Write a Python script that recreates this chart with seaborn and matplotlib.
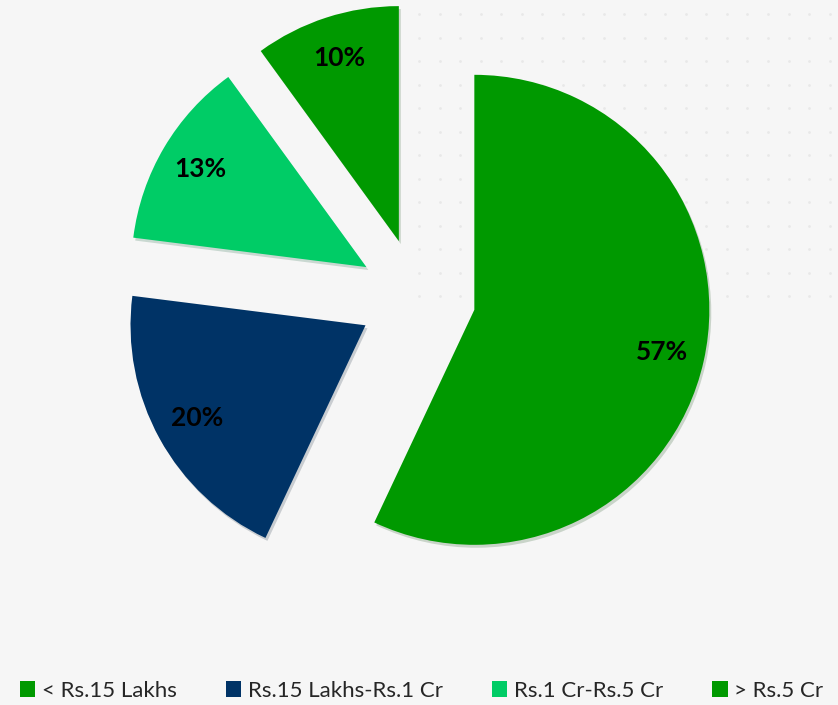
import numpy as np
import matplotlib
matplotlib.use("Agg")
import matplotlib.pyplot as plt
import seaborn as sns
from matplotlib.patches import Patch

# data
categories = ["< Rs.15 Lakhs", "Rs.15 Lakhs-Rs.1 Cr", "Rs.1 Cr-Rs.5 Cr", "> Rs.5 Cr"]
shares = [57, 20, 13, 10]
colors = ["#009900", "#003366", "#00CC66", "#009900"]

sns.set_theme(style="white")
plt.rcParams["font.family"] = ["Lato", "DejaVu Sans"]

bg = "#F6F6F6"
fig = plt.figure(figsize=(8.38, 7.05), dpi=100, facecolor=bg)

# faint dot texture in the upper right (decoration only)
dots = fig.add_axes([0, 0, 1, 1], zorder=0)
dots.set_xlim(0, 1)
dots.set_ylim(0, 1)
dots.axis("off")
gx, gy = np.meshgrid(np.linspace(0.5, 0.99, 21), np.linspace(0.58, 0.98, 13))
dots.scatter(gx, gy, s=4, color="#E8E8E8", linewidths=0)

ax = fig.add_axes([0, 0, 1, 1], zorder=1)
ax.patch.set_alpha(0)

wedges, texts, autotexts = ax.pie(
    shares,
    colors=colors,
    startangle=90,
    counterclock=False,
    explode=[0.25] * len(shares),
    autopct="%d%%",
    pctdistance=0.82,
    radius=1,
    wedgeprops=dict(linewidth=0),
    shadow={"ox": 0.006, "oy": -0.009, "shade": 0.6, "alpha": 0.18},
    textprops=dict(fontsize=19, fontweight="bold", color="black"),
)

ax.set_aspect("equal")
ax.set_xlim(-417 / 235, (838 - 417) / 235)
ax.set_ylim(-(705 - 297) / 235, 297 / 235)
ax.axis("off")

handles = [Patch(facecolor=c, edgecolor="none") for c in colors]
fig.legend(
    handles, categories,
    loc="lower center", bbox_to_anchor=(0.503, -0.022),
    ncol=4, frameon=False, fontsize=16,
    handlelength=0.7, handleheight=0.7, handletextpad=0.3,
    columnspacing=2.2,
)

fig.savefig("out.png", dpi=100, facecolor=bg)
